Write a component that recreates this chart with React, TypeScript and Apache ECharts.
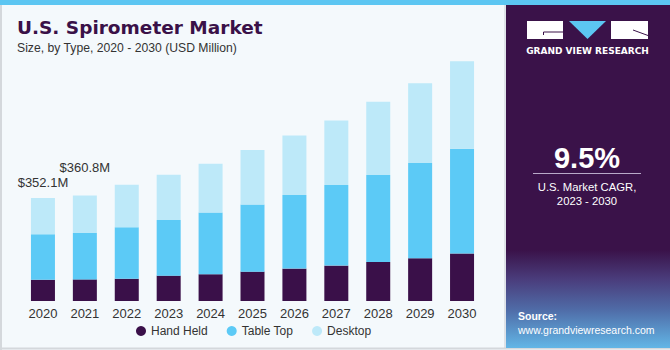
import React, { useEffect, useRef } from "react";
import * as echarts from "echarts";

const years = ["2020", "2021", "2022", "2023", "2024", "2025", "2026", "2027", "2028", "2029", "2030"];
const handHeld = [72.3, 74.0, 76.5, 86.8, 91.6, 100.5, 110.8, 121.1, 133.8, 146.5, 162.2];
const tableTop = [155.8, 159.1, 176.3, 190.0, 211.3, 229.8, 251.8, 275.8, 297.4, 325.9, 359.1];
const desktop = [124.0, 127.7, 145.1, 155.4, 167.0, 186.6, 203.4, 220.5, 250.4, 273.0, 299.4];
const totalLabels = ["$352.1M", "$360.8M"];
const labelOffsets = [-4, -17];

const FONT = "'Liberation Sans', Arial, sans-serif";

export default function App() {
  const ref = useRef<HTMLDivElement>(null);
  useEffect(() => {
    if (!ref.current) return;
    const chart = echarts.init(ref.current, undefined, { renderer: "svg" });
    const desktopData = desktop.map((v, i) =>
      i < totalLabels.length
        ? {
            value: v,
            label: {
              show: true,
              position: "top",
              distance: 5,
              offset: [0, labelOffsets[i]],
              formatter: totalLabels[i],
              color: "#333",
              fontSize: 13,
              fontFamily: FONT,
            },
          }
        : v
    );
    const option: any = {
      animation: false,
      backgroundColor: "#f4f9fc",
      grid: { left: 22, width: 461, top: 38, bottom: 49 },
      xAxis: {
        type: "category",
        data: years,
        axisLine: { show: false },
        axisTick: { show: false },
        axisLabel: { color: "#333", fontSize: 13, margin: 6, fontFamily: FONT },
      },
      yAxis: { type: "value", min: 0, max: 900, show: false, splitLine: { show: false } },
      legend: {
        left: 136,
        top: 325,
        padding: 0,
        icon: "circle",
        itemWidth: 10,
        itemHeight: 10,
        itemGap: 19,
        textStyle: { fontSize: 12, color: "#333", fontFamily: FONT },
        data: ["Hand Held", "Table Top", "Desktop"],
      },
      series: [
        { name: "Hand Held", type: "bar", stack: "t", barWidth: 24, data: handHeld, itemStyle: { color: "#3a1049" } },
        { name: "Table Top", type: "bar", stack: "t", barWidth: 24, data: tableTop, itemStyle: { color: "#5ccaf6" } },
        { name: "Desktop", type: "bar", stack: "t", barWidth: 24, data: desktopData, itemStyle: { color: "#bde9f9" } },
      ],
      graphic: [
        { type: "rect", shape: { x: 0, y: 0, width: 670, height: 5 }, style: { fill: "#5cc6f2" }, z: 10 },
        { type: "line", shape: { x1: 1, y1: 5, x2: 1, y2: 350 }, style: { stroke: "#d4d8dc", lineWidth: 2 }, z: 10 },
        { type: "line", shape: { x1: 0, y1: 348.5, x2: 670, y2: 348.5 }, style: { stroke: "#d4d8dc", lineWidth: 2 }, z: 10 },
        {
          type: "text",
          left: 17,
          top: 18,
          style: { text: "U.S. Spirometer Market", fill: "#3a1148", font: "bold 18.5px 'DejaVu Sans', sans-serif" },
          z: 10,
        },
        {
          type: "text",
          left: 17,
          top: 42,
          style: { text: "Size, by Type, 2020 - 2030 (USD Million)", fill: "#333", font: "12.2px " + FONT },
          z: 10,
        },
        { type: "line", shape: { x1: 505, y1: 5, x2: 505, y2: 348 }, style: { stroke: "#c8ccd4", lineWidth: 1 }, z: 10 },
        { type: "rect", shape: { x: 506, y: 5, width: 164, height: 343 }, style: { fill: "#3a1249" }, z: 10 },
        {
          type: "rect",
          shape: { x: 506, y: 250, width: 164, height: 98 },
          style: {
            fill: new echarts.graphic.LinearGradient(0, 0, 0, 1, [
              { offset: 0, color: "#3a1249" },
              { offset: 0.3, color: "#4a3d7c" },
              { offset: 0.6, color: "#4f6aa6" },
              { offset: 1, color: "#62b6e6" },
            ]),
          },
          z: 11,
        },
        { type: "rect", shape: { x: 527, y: 21, width: 36, height: 18 }, style: { fill: "#ffffff" }, z: 12 },
        { type: "polyline", shape: { points: [[563, 32], [543.5, 32], [543.5, 35]] }, style: { stroke: "#3a1249", lineWidth: 1, fill: "none" }, z: 13 },
        { type: "polygon", shape: { points: [[569, 21], [606, 21], [587.5, 39]] }, style: { fill: "#5cc6f2" }, z: 12 },
        { type: "rect", shape: { x: 611, y: 21, width: 37, height: 18 }, style: { fill: "#ffffff" }, z: 12 },
        { type: "line", shape: { x1: 633, y1: 30, x2: 648, y2: 35.5 }, style: { stroke: "#3a1249", lineWidth: 1 }, z: 13 },
        {
          type: "text",
          x: 587.5,
          y: 51,
          style: { text: "GRAND VIEW RESEARCH", fill: "#ffffff", font: "bold 9px 'DejaVu Sans', sans-serif", align: "center", verticalAlign: "middle" },
          z: 12,
        },
        {
          type: "text",
          x: 587,
          y: 158,
          style: { text: "9.5%", fill: "#ffffff", font: "bold 29px " + FONT, align: "center", verticalAlign: "middle" },
          z: 12,
        },
        { type: "line", shape: { x1: 533, y1: 173.5, x2: 641, y2: 173.5 }, style: { stroke: "#b9a9c9", lineWidth: 1 }, z: 12 },
        {
          type: "text",
          x: 587,
          y: 187,
          style: { text: "U.S. Market CAGR,", fill: "#ffffff", font: "11.3px " + FONT, align: "center", verticalAlign: "middle" },
          z: 12,
        },
        {
          type: "text",
          x: 587,
          y: 201,
          style: { text: "2023 - 2030", fill: "#ffffff", font: "11.3px " + FONT, align: "center", verticalAlign: "middle" },
          z: 12,
        },
        {
          type: "text",
          x: 518,
          y: 316,
          style: { text: "Source:", fill: "#ffffff", font: "bold 10.5px " + FONT, verticalAlign: "middle" },
          z: 12,
        },
        {
          type: "text",
          x: 518,
          y: 330,
          style: { text: "www.grandviewresearch.com", fill: "#ffffff", font: "10.5px " + FONT, verticalAlign: "middle" },
          z: 12,
        },
      ],
    };
    chart.setOption(option);
    return () => chart.dispose();
  }, []);
  return <div ref={ref} style={{ position: "fixed", left: 0, top: 0, width: 670, height: 350 }} />;
}
